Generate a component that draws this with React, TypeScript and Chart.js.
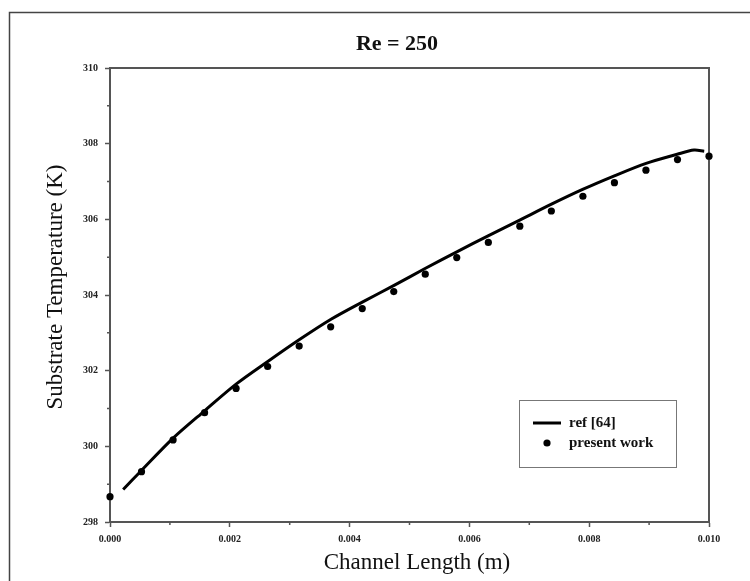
import React, { useEffect, useRef } from "react";
import { Chart, registerables } from "chart.js";

Chart.register(...registerables);

const TITLE = "Re = 250";
const X_TITLE = "Channel Length (m)";
const Y_TITLE = "Substrate Temperature (K)";
const SERIES_NAMES = ["ref [64]", "present work"];

// ref [64] curve (solid line)
const refX = [0.00022, 0.00053, 0.00105, 0.00158, 0.00211, 0.00264, 0.00317, 0.00369, 0.00422, 0.00475, 0.00526, 0.00579, 0.00632, 0.00684, 0.00737, 0.00789, 0.00842, 0.00895, 0.00947, 0.00975, 0.00992];
const refT = [298.86, 299.37, 300.21, 300.94, 301.65, 302.25, 302.83, 303.36, 303.82, 304.26, 304.70, 305.14, 305.57, 305.98, 306.40, 306.79, 307.15, 307.48, 307.72, 307.83, 307.80];

// present work (dots)
const presentX = [0, 0.000526, 0.001053, 0.001579, 0.002105, 0.002632, 0.003158, 0.003684, 0.004211, 0.004737, 0.005263, 0.005789, 0.006316, 0.006842, 0.007368, 0.007895, 0.008421, 0.008947, 0.009474, 0.01];
const presentT = [298.67, 299.33, 300.17, 300.89, 301.53, 302.11, 302.65, 303.16, 303.64, 304.09, 304.55, 304.99, 305.39, 305.82, 306.22, 306.61, 306.97, 307.30, 307.58, 307.67];

const xTickValues = [0, 0.002, 0.004, 0.006, 0.008, 0.01];
const xTickLabels = ["0.000", "0.002", "0.004", "0.006", "0.008", "0.010"];
const xMinorTicks = [0.001, 0.003, 0.005, 0.007, 0.009];
const yTickValues = [298, 300, 302, 304, 306, 308, 310];
const yTickLabels = ["298", "300", "302", "304", "306", "308", "310"];
const yMinorTicks = [299, 301, 303, 305, 307, 309];

const SERIF = "'Liberation Serif', 'Times New Roman', serif";
const AXIS_COLOR = "#555";

const decorPlugin = {
  id: "decor",
  beforeDraw(chart: any) {
    const ctx = chart.ctx;
    ctx.save();
    ctx.strokeStyle = "#444";
    ctx.lineWidth = 1.5;
    ctx.beginPath();
    ctx.moveTo(9.5, 600);
    ctx.lineTo(9.5, 12.5);
    ctx.lineTo(760, 12.5);
    ctx.stroke();
    ctx.restore();
  },
  beforeDatasetsDraw(chart: any) {
    const ctx = chart.ctx;
    const a = chart.chartArea;
    const xs = chart.scales.x;
    const ys = chart.scales.y;
    ctx.save();
    ctx.strokeStyle = AXIS_COLOR;
    ctx.lineWidth = 2;
    ctx.beginPath();
    ctx.moveTo(a.left, a.top);
    ctx.lineTo(a.right, a.top);
    ctx.lineTo(a.right, a.bottom);
    ctx.stroke();
    ctx.lineWidth = 1.5;
    ctx.beginPath();
    xMinorTicks.forEach((v) => {
      const px = xs.getPixelForValue(v);
      ctx.moveTo(px, a.bottom);
      ctx.lineTo(px, a.bottom + 3);
    });
    yMinorTicks.forEach((v) => {
      const py = ys.getPixelForValue(v);
      ctx.moveTo(a.left, py);
      ctx.lineTo(a.left - 3, py);
    });
    ctx.stroke();
    ctx.restore();
  },
  afterDraw(chart: any) {
    const ctx = chart.ctx;
    const a = chart.chartArea;
    ctx.save();
    ctx.fillStyle = "#111";
    ctx.textAlign = "center";
    ctx.textBaseline = "middle";
    ctx.font = `bold 22px ${SERIF}`;
    ctx.fillText(TITLE, 397, 44);
    ctx.font = `23px ${SERIF}`;
    ctx.fillText(X_TITLE, 417, 563);
    ctx.save();
    ctx.translate(56, 287);
    ctx.rotate(-Math.PI / 2);
    ctx.fillText(Y_TITLE, 0, 0);
    ctx.restore();

    // legend
    const lx = 519.5, ly = 400.5, lw = 157, lh = 67;
    ctx.strokeStyle = "#777";
    ctx.lineWidth = 1;
    ctx.strokeRect(lx, ly, lw, lh);
    ctx.strokeStyle = "#000";
    ctx.lineWidth = 3;
    ctx.beginPath();
    ctx.moveTo(533, 423);
    ctx.lineTo(561, 423);
    ctx.stroke();
    ctx.fillStyle = "#000";
    ctx.beginPath();
    ctx.arc(547, 443, 3.6, 0, Math.PI * 2);
    ctx.fill();
    ctx.fillStyle = "#111";
    ctx.textAlign = "left";
    ctx.font = `bold 15px ${SERIF}`;
    ctx.fillText(SERIES_NAMES[0], 569, 423);
    ctx.fillText(SERIES_NAMES[1], 569, 443);
    ctx.restore();
  },
};

export default function App() {
  const ref = useRef<HTMLCanvasElement | null>(null);
  useEffect(() => {
    if (!ref.current) return;
    const chart = new Chart(ref.current, {
      type: "scatter",
      data: {
        datasets: [
          {
            label: SERIES_NAMES[0],
            data: refX.map((x, i) => ({ x, y: refT[i] })),
            showLine: true,
            borderColor: "#000",
            borderWidth: 3,
            pointRadius: 0,
            tension: 0.3,
            clip: false as any,
          },
          {
            label: SERIES_NAMES[1],
            data: presentX.map((x, i) => ({ x, y: presentT[i] })),
            showLine: false,
            backgroundColor: "#000",
            borderColor: "#000",
            pointRadius: 3.6,
            borderWidth: 0,
            clip: false as any,
          },
        ],
      },
      options: {
        animation: false,
        responsive: false,
        devicePixelRatio: 1,
        layout: { padding: { left: 0, right: 41, top: 68, bottom: 0 } },
        plugins: { legend: { display: false }, tooltip: { enabled: false }, title: { display: false } },
        scales: {
          x: {
            type: "linear",
            min: 0,
            max: 0.01,
            afterBuildTicks: (s: any) => {
              s.ticks = xTickValues.map((v) => ({ value: v }));
            },
            afterFit: (s: any) => {
              s.height = 59;
            },
            ticks: {
              callback: (v: any) => xTickLabels[xTickValues.findIndex((t) => Math.abs(t - v) < 1e-9)] ?? "",
              font: { family: SERIF, size: 10, weight: "bold" },
              color: "#222",
              padding: 6,
              maxRotation: 0,
              autoSkip: false,
            },
            grid: { drawOnChartArea: false, drawTicks: true, tickLength: 5, tickColor: AXIS_COLOR, tickWidth: 1.5 },
            border: { display: true, color: AXIS_COLOR, width: 2 },
          },
          y: {
            type: "linear",
            min: 298,
            max: 310,
            afterBuildTicks: (s: any) => {
              s.ticks = yTickValues.map((v) => ({ value: v }));
            },
            afterFit: (s: any) => {
              s.width = 110;
            },
            ticks: {
              callback: (v: any) => yTickLabels[yTickValues.findIndex((t) => Math.abs(t - v) < 1e-9)] ?? "",
              font: { family: SERIF, size: 10, weight: "bold" },
              color: "#222",
              padding: 7,
              autoSkip: false,
            },
            grid: { drawOnChartArea: false, drawTicks: true, tickLength: 5, tickColor: AXIS_COLOR, tickWidth: 1.5 },
            border: { display: true, color: AXIS_COLOR, width: 2 },
          },
        },
      },
      plugins: [decorPlugin],
    });
    return () => chart.destroy();
  }, []);
  return (
    <div style={{ position: "absolute", left: 0, top: 0, width: 750, height: 581, background: "#fff" }}>
      <canvas ref={ref} width={750} height={581} style={{ display: "block" }} />
    </div>
  );
}
